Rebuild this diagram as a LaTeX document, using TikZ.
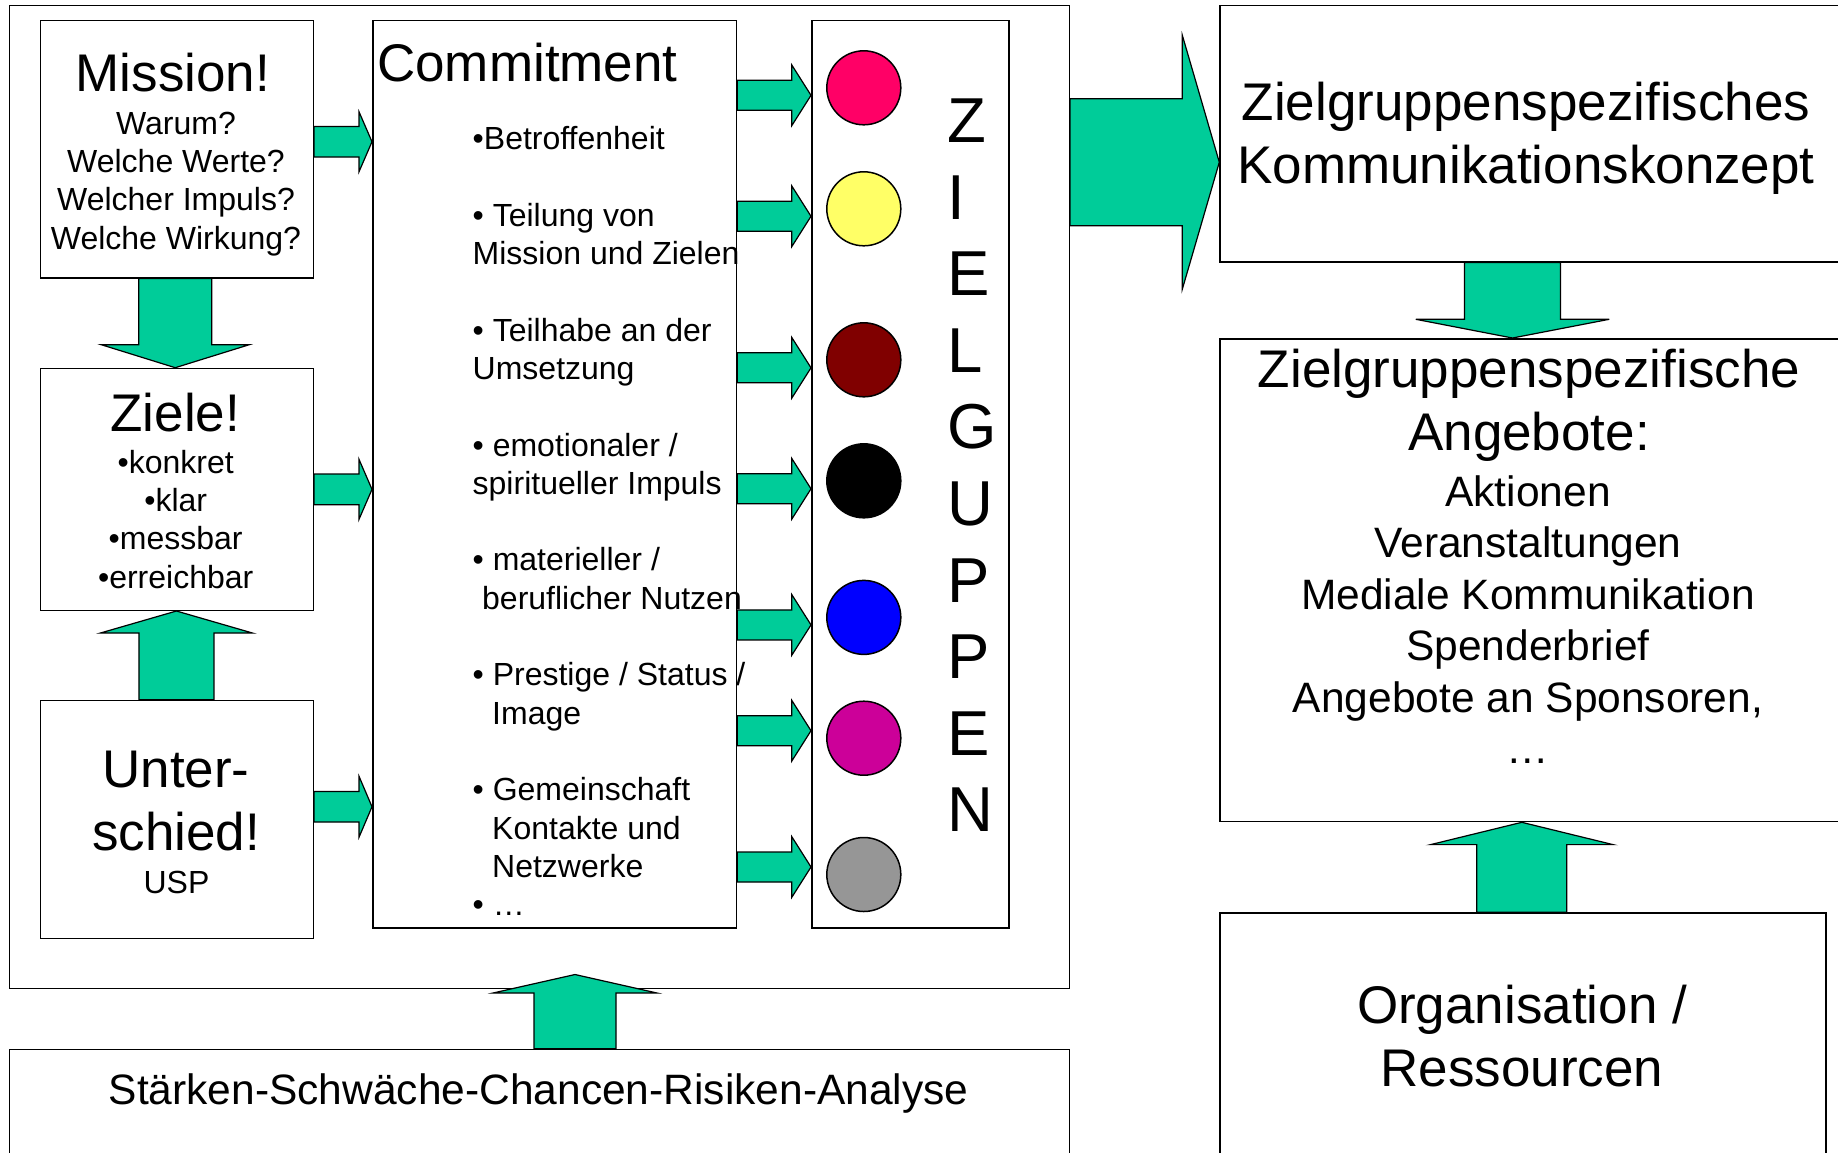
\documentclass[tikz,border=0pt]{standalone}
\usepackage{fontspec}
\setmainfont{Liberation Sans}
\usetikzlibrary{calc}
\definecolor{arrowgreen}{HTML}{00CC99}
\definecolor{rosa}{HTML}{FF0066}
\definecolor{gelb}{HTML}{FFFF66}
\definecolor{dunkelrot}{HTML}{800000}
\definecolor{blau}{HTML}{0000FF}
\definecolor{lila}{HTML}{CC0099}
\definecolor{grau}{HTML}{969696}
% from, to, shaft half width, head half width, head length
\newcommand{\fatarrow}[5]{\draw[greenarrow] let \p1=(#1), \p2=(#2), \n1={atan2(\y2-\y1,\x2-\x1)}, \n2={veclen(\x2-\x1,\y2-\y1)} in {[shift={(\p1)}, rotate=\n1] (0pt,#3pt) -- (\n2-#5pt,#3pt) -- (\n2-#5pt,#4pt) -- (\n2,0pt) -- (\n2-#5pt,-#4pt) -- (\n2-#5pt,-#3pt) -- (0pt,-#3pt) -- cycle};}
\begin{document}
\begin{tikzpicture}[x=1pt, y=-1pt,
	box/.style={draw, line width=1.5pt, rectangle, anchor=north west, inner sep=0pt},
	greenarrow/.style={fill=arrowgreen, draw=black, line width=1.2pt, line join=miter},
	dot/.style={circle, draw, line width=1.5pt, minimum size=74pt, inner sep=0pt},
	big/.style={font=\fontsize{53}{63.5}\selectfont, inner sep=0pt, align=center, anchor=base},
	small/.style={font=\fontsize{32}{38.3}\selectfont, inner sep=0pt, align=center, anchor=base},
	mid/.style={font=\fontsize{42.5}{51.5}\selectfont, inner sep=0pt, align=center, anchor=base}]
	\useasboundingbox (0,0) rectangle (1838,1152);
	\clip (0,0) rectangle (1838,1152);
	\node[box, minimum width=1059.8pt, minimum height=983.1pt] (outer) at (8.7,4.5) {};
	\node[box, minimum width=272.8pt, minimum height=257.2pt] (mission) at (39.8,19.8) {};
	\node[box, minimum width=272.8pt, minimum height=241.8pt] (ziele) at (39.8,367.7) {};
	\node[box, minimum width=272.8pt, minimum height=237.8pt] (unter) at (39.8,699.7) {};
	\node[box, minimum width=363.8pt, minimum height=907.4pt] (commit) at (372,19.8) {};
	\node[box, minimum width=197pt, minimum height=907.2pt] (zg) at (811,19.8) {};
	\node[box, minimum width=1059.8pt, minimum height=160pt] (swot) at (8.7,1048.6) {};
	\node[box, minimum width=640pt, minimum height=256.3pt] (konzept) at (1219.3,4.7) {};
	\node[box, minimum width=640pt, minimum height=482.8pt] (angebote) at (1219.3,338) {};
	\node[box, minimum width=605.7pt, minimum height=290pt] (orga) at (1219.3,912.3) {};

	% multi-line nodes sit on the baseline of their last line
	\node[big] (missiontitle) at (173,91) {Mission!};
	\node[small] (missiontext) at (176,249) {Warum?\\Welche Werte?\\Welcher Impuls?\\Welche Wirkung?};
	\node[big] (zieletitle) at (175.3,431) {Ziele!};
	\node[small] (zieletext) at (175.7,588) {•konkret\\•klar\\•messbar\\•erreichbar};
	\node[big] (untertitle) at (176,850.7) {Unter-\\schied!};
	\node[small] (usp) at (176.5,893) {USP};
	\node[big, anchor=base west] (committitle) at (377,81) {Commitment};
	\node[small, align=left, anchor=base west] (commitlist) at (472.5,915.6) {•Betroffenheit\\[38.3pt]• Teilung von\\Mission und Zielen\\[38.3pt]• Teilhabe an der\\Umsetzung\\[38.3pt]• emotionaler /\\spiritueller Impuls\\[38.3pt]• materieller /\\\hspace*{9.5pt}beruflicher Nutzen\\[38.3pt]• Prestige / Status /\\\hspace*{19.5pt}Image\\[38.3pt]• Gemeinschaft\\\hspace*{19.5pt}Kontakte und\\\hspace*{19.5pt}Netzwerke\\• …};
	\node[font=\fontsize{63.5}{76.6}\selectfont, inner sep=0pt, align=left, anchor=base west] (zgtext) at (946.8,831.8) {Z\\I\\E\\L\\G\\U\\P\\P\\E\\N};
	\node[mid] (swottext) at (538.6,1104) {Stärken-Schwäche-Chancen-Risiken-Analyse};
	\node[big] (konzepttext) at (1526,183.9) {Zielgruppenspezifisches\\Kommunikationskonzept};
	\node[big] (angebotetitle) at (1529,450.8) {Zielgruppenspezifische\\Angebote:};
	\node[mid] (angebotetext) at (1528,763.8) {Aktionen\\Veranstaltungen\\Mediale Kommunikation\\Spenderbrief\\Angebote an Sponsoren,\\…};
	\node[big] (orgatext) at (1522,1086.6) {Organisation /\\Ressourcen};

	\coordinate (a1) at ([yshift=7.4pt]mission.east);
	\fatarrow{a1}{a1 -| commit.west}{15.3}{30}{13}
	\fatarrow{ziele.east}{ziele.east -| commit.west}{15.3}{30}{13}
	\coordinate (a3) at ([yshift=12.6pt]unter.east);
	\fatarrow{a3}{a3 -| commit.west}{15.3}{30.5}{13}
	\coordinate (a4) at ([xshift=-1.7pt]mission.south);
	\fatarrow{a4}{a4 |- ziele.north}{36.5}{74}{23}
	\coordinate (a5) at ([xshift=-0.5pt]unter.north);
	\fatarrow{a5}{a5 |- ziele.south}{37.5}{76}{22}
	\coordinate (a6) at ([xshift=566.3pt]swot.north west);
	\coordinate (a7) at ($(a6 |- outer.south)+(0,-14.6)$);
	\fatarrow{a6}{a7}{41}{82}{18.5}
	\coordinate (a8) at ($(outer.east |- konzept.east)+(0,28.6)$);
	\fatarrow{a8}{a8 -| konzept.west}{63.5}{127}{37}
	\coordinate (a9) at ([xshift=293.2pt]konzept.south west);
	\fatarrow{a9}{a9 |- angebote.north}{48}{96.7}{18.7}
	\coordinate (a10) at ([xshift=302.5pt]orga.north west);
	\fatarrow{a10}{a10 |- angebote.south}{45}{91.2}{22.3}

	\foreach \col/\cy/\dy [count=\i] in {rosa/87.8/7.5, gelb/208.8/7.5, dunkelrot/359.8/8, black/480.8/8, blau/617.4/7.5, lila/738.2/-7.5, grau/874.5/-7.5}{
		\node[dot, fill=\col] (c\i) at (863.8,\cy) {};
		\coordinate (s\i) at ($(commit.east |- c\i)+(0,\dy)$);
		\fatarrow{s\i}{s\i -| zg.west}{15}{30.3}{19.2}
	}
\end{tikzpicture}
\end{document}
